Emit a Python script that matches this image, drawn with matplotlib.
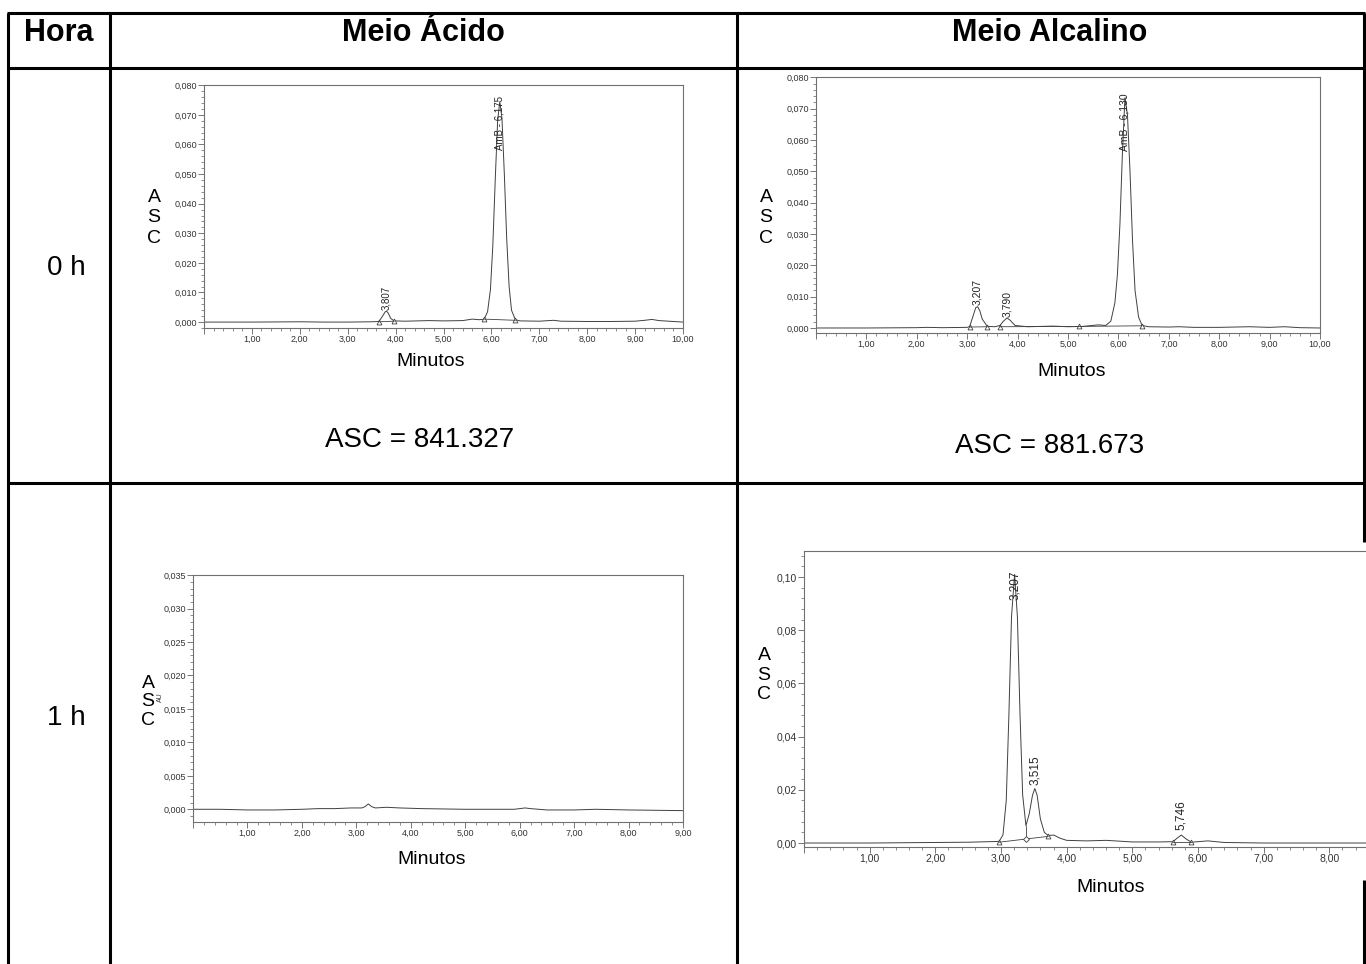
import matplotlib.pyplot as plt
from matplotlib.ticker import MultipleLocator, FuncFormatter

plt.rcParams['font.family'] = ['Liberation Sans', 'DejaVu Sans']

W, H = 1366, 964

# ---- data ----
horas = ['0 h', '1 h']
meios = ['Meio Ácido', 'Meio Alcalino']
asc_valores = ['841.327', '881.673']

# 0 h, meio acido
ac0_t = [0, 0.5, 1.0, 2.0, 2.5, 3.0, 3.5, 3.65, 3.72, 3.78, 3.807, 3.84, 3.9, 3.97, 4.2, 4.7, 5.0,
         5.4, 5.6, 5.75, 5.85, 5.92, 5.98, 6.03, 6.08, 6.13, 6.175, 6.22, 6.27, 6.32, 6.37, 6.42,
         6.5, 6.6, 7.0, 7.2, 7.3, 7.45, 8.0, 8.5, 9.0, 9.2, 9.35, 9.5, 10.0]
ac0_y = [0.0000, 0.0000, 0.0000, 0.0001, 0.0000, 0.0000, 0.0001, 0.0002, 0.0018, 0.0034, 0.0037,
         0.0032, 0.0012, 0.0004, 0.0003, 0.0005, 0.0004, 0.0005, 0.0010, 0.0008, 0.0010, 0.0035,
         0.0110, 0.0260, 0.0480, 0.0680, 0.0745, 0.0690, 0.0500, 0.0280, 0.0120, 0.0040, 0.0008,
         0.0004, 0.0003, 0.0005, 0.0006, 0.0003, 0.0002, 0.0002, 0.0003, 0.0006, 0.0009, 0.0005,
         0.0000]
ac0_picos = [(3.807, '3,807', 0.0040, 'bottom'), (6.175, 'AmB - 6,175', 0.0765, 'top')]
ac0_marc_t = [3.65, 3.97, 5.85, 6.5]
ac0_marc_y = [0.0001, 0.0003, 0.0010, 0.0006]

# 0 h, meio alcalino
al0_t = [0, 1, 2, 2.2, 2.5, 3.0, 3.05, 3.12, 3.17, 3.207, 3.25, 3.3, 3.4, 3.55, 3.65, 3.72, 3.79,
         3.85, 3.95, 4.2, 4.7, 5.0, 5.3, 5.6, 5.75, 5.85, 5.93, 5.98, 6.03, 6.08, 6.13, 6.18, 6.23,
         6.28, 6.33, 6.4, 6.47, 6.6, 7.0, 7.2, 7.5, 8.0, 8.6, 9.0, 9.3, 9.6, 10]
al0_y = [0, 0, 0.0001, 0.0002, 0.0001, 0.0002, 0.0005, 0.0040, 0.0065, 0.0068, 0.0055, 0.0028,
         0.0005, 0.0004, 0.0008, 0.0022, 0.0032, 0.0025, 0.0008, 0.0004, 0.0006, 0.0004, 0.0005,
         0.0010, 0.0008, 0.0022, 0.0080, 0.0170, 0.0330, 0.0560, 0.0735, 0.0680, 0.0500, 0.0280,
         0.0120, 0.0035, 0.0008, 0.0004, 0.0003, 0.0004, 0.0002, 0.0002, 0.0004, 0.0002, 0.0004,
         0.0001, 0.0]
al0_picos = [(3.207, '3,207', 0.0073, 'bottom'), (3.790, '3,790', 0.0036, 'bottom'),
             (6.130, 'AmB - 6,130', 0.0750, 'top')]
al0_marc_t = [3.05, 3.40, 3.65, 5.22, 6.47]
al0_marc_y = [0.0003, 0.0004, 0.0004, 0.0005, 0.0007]

# 1 h, meio acido
ac1_t = [0, 0.5, 1.0, 1.5, 2.0, 2.3, 2.6, 2.9, 3.1, 3.16, 3.22, 3.28, 3.35, 3.55, 3.8, 4.2, 5.0,
         5.5, 5.9, 6.1, 6.2, 6.5, 7.0, 7.4, 8.0, 9.0]
ac1_y = [0.0000, 0.0000, -0.0001, -0.0001, 0.0000, 0.0001, 0.0001, 0.0002, 0.0002, 0.0004,
         0.0008, 0.0004, 0.0002, 0.0003, 0.0002, 0.0001, 0.0000, 0.0000, 0.0000, 0.0002, 0.0001,
         -0.0001, -0.0001, 0.0000, -0.0001, -0.0002]

# 1 h, meio alcalino
al1_t = [0, 1, 2, 2.5, 2.97, 3.03, 3.08, 3.12, 3.16, 3.207, 3.25, 3.29, 3.33, 3.38, 3.43, 3.48,
         3.515, 3.55, 3.6, 3.66, 3.72, 3.8, 3.9, 4.0, 4.3, 4.6, 5.0, 5.4, 5.62, 5.68, 5.746, 5.82,
         5.9, 6.15, 6.4, 7.0, 8.0, 9.0]
al1_y = [0, 0, 0.0002, 0.0003, 0.0006, 0.0030, 0.0160, 0.0480, 0.0850, 0.1010, 0.0850, 0.0480,
         0.0180, 0.0065, 0.0110, 0.0180, 0.0205, 0.0180, 0.0090, 0.0040, 0.0028, 0.0030, 0.0018,
         0.0010, 0.0008, 0.0010, 0.0004, 0.0004, 0.0005, 0.0018, 0.0030, 0.0015, 0.0003, 0.0008,
         0.0002, 0.0000, 0.0000, 0.0000]
al1_picos = [(3.207, '3,207', 0.1025, 'top'), (3.515, '3,515', 0.0218, 'bottom'),
             (5.746, '5,746', 0.0049, 'bottom')]
al1_marc_t = [2.97, 3.72, 5.62, 5.90]
al1_marc_y = [0.0003, 0.0025, 0.0002, 0.0002]

fig = plt.figure(figsize=(W / 100, H / 100), dpi=100)
fig.patch.set_facecolor('white')

# background axes in pixel coordinates for the table
bg = fig.add_axes([0, 0, 1, 1])
bg.set_xlim(0, W)
bg.set_ylim(H, 0)
bg.axis('off')
bg.set_zorder(0)

lw = 2.2
for x in [8, 110, 737]:
    bg.plot([x, x], [13, 964], color='black', lw=lw, solid_capstyle='butt')
bg.plot([1364, 1364], [13, 542], color='black', lw=lw, solid_capstyle='butt')
bg.plot([1364, 1364], [880, 964], color='black', lw=lw, solid_capstyle='butt')
for y in [13, 68, 483]:
    bg.plot([7, 1365], [y, y], color='black', lw=lw, solid_capstyle='butt')

bg.text(59, 33, 'Hora', fontsize=22, fontweight='bold', ha='center', va='center')
bg.text(423, 33, meios[0], fontsize=22, fontweight='bold', ha='center', va='center')
bg.text(1050, 33, meios[1], fontsize=22, fontweight='bold', ha='center', va='center')
bg.text(66, 268, horas[0], fontsize=20, ha='center', va='center')
bg.text(66, 718, horas[1], fontsize=20, ha='center', va='center')
bg.text(420, 440, 'ASC = ' + asc_valores[0], fontsize=20, ha='center', va='center')
bg.text(1050, 446, 'ASC = ' + asc_valores[1], fontsize=20, ha='center', va='center')

# axis titles of each chromatogram
for x, y, sp in [(154, 218, 1.3), (766, 218, 1.3), (148, 702, 1.15), (764, 675, 1.2)]:
    bg.text(x, y, 'A\nS\nC', fontsize=14, ha='center', va='center', linespacing=sp)
bg.text(160, 697, 'AU', fontsize=5, rotation=90, ha='center', va='center', color='#333333')
for x, y in [(431, 361), (1072, 372), (432, 860), (1111, 887)]:
    bg.text(x, y, 'Minutos', fontsize=14, ha='center', va='center')


def chrom(L, T, R, B, xmax, ylim, ystep, yminor, ydec, fs, xlab_max=99):
    ax = fig.add_axes([L / W, 1 - B / H, (R - L) / W, (B - T) / H])
    ax.set_zorder(1)
    ax.set_facecolor('white')
    ax.set_xlim(0, xmax)
    ax.set_ylim(*ylim)
    ax.xaxis.set_major_locator(MultipleLocator(1))
    ax.xaxis.set_minor_locator(MultipleLocator(0.2))
    ax.yaxis.set_major_locator(MultipleLocator(ystep))
    ax.yaxis.set_minor_locator(MultipleLocator(yminor))
    ax.xaxis.set_major_formatter(FuncFormatter(
        lambda v, p: '' if (v < 0.5 or v > xlab_max) else f'{v:.2f}'.replace('.', ',')))
    ax.yaxis.set_major_formatter(FuncFormatter(
        lambda v, p: f'{v:.{ydec}f}'.replace('.', ',')))
    for s in ax.spines.values():
        s.set_color('#707070')
        s.set_linewidth(0.8)
    ax.tick_params(which='major', length=4, width=0.6, color='#606060',
                   labelsize=fs, labelcolor='#333333', pad=1)
    ax.tick_params(which='minor', length=2, width=0.5, color='#606060')
    return ax


def draw(ax, t, y, picos=(), mt=(), my=(), fs=6.5):
    ax.plot(t, y, color='#404040', lw=0.7)
    if len(mt):
        ax.plot(mt, my, linestyle='none', marker='^', ms=3.5, mfc='white',
                mec='#404040', mew=0.6)
    for pt, lab, py, va in picos:
        ax.text(pt, py, lab, rotation=90, ha='center', va=va, fontsize=fs, color='#222222')


ax1 = chrom(204, 85, 683, 328, 10, (-0.002, 0.0801), 0.01, 0.002, 3, 6.5)
draw(ax1, ac0_t, ac0_y, ac0_picos, ac0_marc_t, ac0_marc_y, fs=7)
ax1.plot([3.65, 3.97], [0.0001, 0.0003], color='#404040', lw=0.6)
ax1.plot([5.85, 6.5], [0.0010, 0.0006], color='#404040', lw=0.6)

ax2 = chrom(816, 77, 1320, 333, 10, (-0.0016, 0.0801), 0.01, 0.002, 3, 6.5)
draw(ax2, al0_t, al0_y, al0_picos, al0_marc_t, al0_marc_y, fs=7.5)
ax2.plot([3.05, 3.40], [0.0003, 0.0004], color='#404040', lw=0.6)
ax2.plot([3.65, 5.22, 6.47], [0.0004, 0.0005, 0.0007], color='#404040', lw=0.6)

ax3 = chrom(193, 575, 683, 822, 9, (-0.0019, 0.03502), 0.005, 0.001, 3, 6.5)
draw(ax3, ac1_t, ac1_y)

ax4 = chrom(804, 551, 1395, 847, 9, (-0.0015, 0.1098), 0.02, 0.004, 2, 7.5, xlab_max=8.5)
draw(ax4, al1_t, al1_y, al1_picos, al1_marc_t, al1_marc_y, fs=8.5)
ax4.plot([2.97, 3.72], [0.0003, 0.0025], color='#404040', lw=0.6)
ax4.plot([5.62, 5.90], [0.0002, 0.0002], color='#404040', lw=0.6)
ax4.plot([3.38, 3.38], [0.0014, 0.0065], color='#404040', lw=0.6)
ax4.plot([3.38], [0.0014], linestyle='none', marker='D', ms=3, mfc='white',
         mec='#404040', mew=0.6)

fig.savefig('out.png', dpi=100, facecolor='white')
